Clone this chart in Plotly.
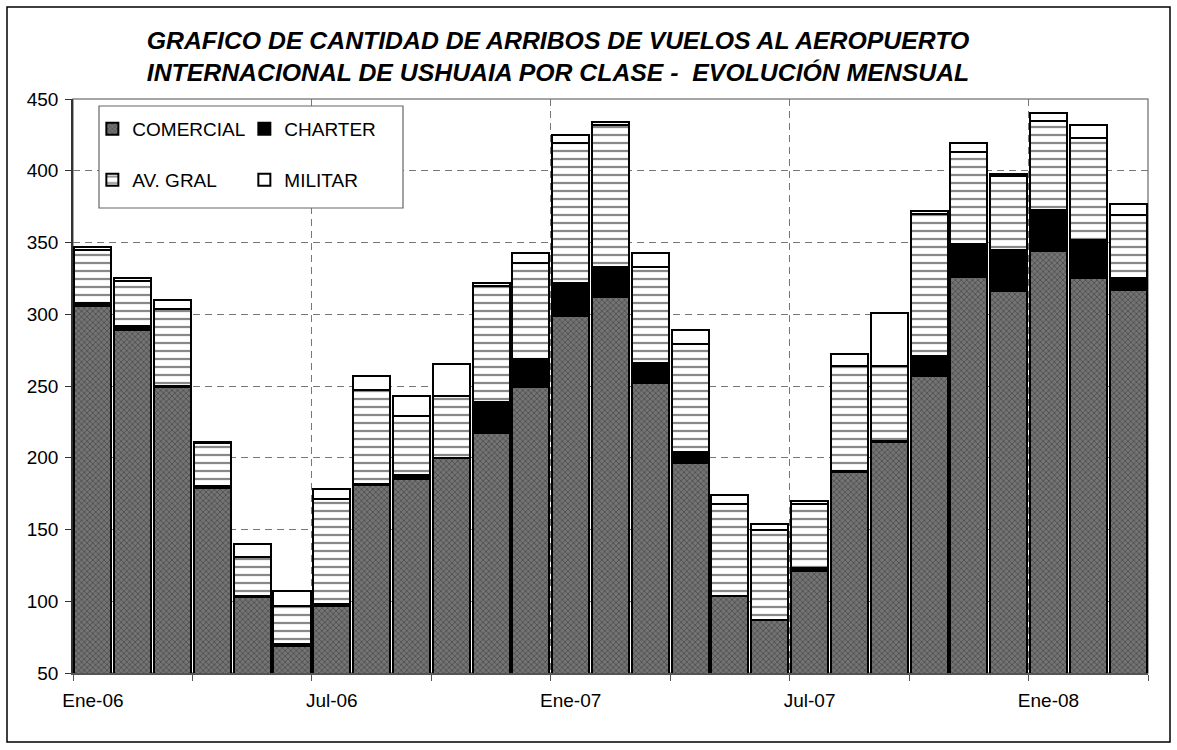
import plotly.graph_objects as go

months = ["Ene-06","Feb-06","Mar-06","Abr-06","May-06","Jun-06","Jul-06","Ago-06","Sep-06","Oct-06","Nov-06","Dic-06",
          "Ene-07","Feb-07","Mar-07","Abr-07","May-07","Jun-07","Jul-07","Ago-07","Sep-07","Oct-07","Nov-07","Dic-07",
          "Ene-08","Feb-08","Mar-08"]
comercial = [306, 289, 249, 179, 103, 69, 97, 181, 185, 200, 217, 249,
             299, 312, 252, 196, 104, 87, 121, 190, 211, 257, 326, 316,
             344, 325, 317]
charter   = [2, 3, 1, 1, 1, 1, 1, 1, 3, 0, 22, 20,
             23, 21, 14, 8, 0, 0, 2, 1, 1, 14, 23, 29,
             29, 27, 8]
av_gral   = [37, 31, 54, 30, 27, 27, 73, 65, 41, 43, 81, 67,
             97, 99, 67, 75, 64, 63, 45, 73, 52, 99, 64, 51,
             62, 71, 44]
militar   = [2, 2, 6, 1, 9, 10, 7, 10, 14, 22, 2, 7,
             6, 2, 10, 10, 6, 4, 2, 8, 37, 2, 6, 2,
             5, 9, 8]
label_idx = [0, 6, 12, 18, 24]
y_ticks = [50, 100, 150, 200, 250, 300, 350, 400, 450]

x = list(range(len(months)))
FONT = "Liberation Sans, Arial, sans-serif"
line = dict(color="black", width=2)

fig = go.Figure()
fig.add_trace(go.Bar(x=x, y=comercial, name="COMERCIAL", legend="legend",
                     marker=dict(color="#707070", line=line,
                                 pattern=dict(shape="x", size=4, solidity=0.35,
                                              fgcolor="#202020", bgcolor="#747474"))))
fig.add_trace(go.Bar(x=x, y=charter, name="CHARTER", legend="legend",
                     marker=dict(color="black", line=line)))
fig.add_trace(go.Bar(x=x, y=av_gral, name="AV. GRAL", legend="legend2",
                     marker=dict(color="white", line=line,
                                 pattern=dict(shape="-", size=8, solidity=0.28,
                                              fgcolor="#111111", bgcolor="white"))))
fig.add_trace(go.Bar(x=x, y=militar, name="MILITAR", legend="legend2",
                     marker=dict(color="white", line=line)))

n = len(months)
fig.update_layout(
    width=1177, height=750,
    barmode="stack", bargap=0.07,
    paper_bgcolor="white", plot_bgcolor="white",
    margin=dict(l=73, r=29, t=99, b=77),
    font=dict(family=FONT, size=19, color="black"),
    title=dict(text="<b><i>GRAFICO DE CANTIDAD DE ARRIBOS DE VUELOS AL AEROPUERTO<br>"
                    "INTERNACIONAL DE USHUAIA POR CLASE -  EVOLUCIÓN MENSUAL</i></b>",
               x=558/1177, xanchor="center", y=1-49/750, yanchor="middle", yref="container",
               font=dict(family=FONT, size=24.8, color="black")),
    xaxis=dict(range=[-0.5, n-0.5], tickmode="array",
               tickvals=[i-0.5 for i in range(0, n+1, 3)],
               showticklabels=False, ticks="outside", ticklen=6, tickcolor="#555",
               showgrid=False, showline=True, linecolor="#555", linewidth=1.5, zeroline=False,
               minor=dict(tickmode="array", tickvals=[i-0.5 for i in range(6, n, 6)],
                          showgrid=True, gridcolor="#777", griddash="7px,5px", gridwidth=1.3,
                          ticks="")),
    xaxis2=dict(overlaying="x", anchor="y", side="bottom", range=[-0.5, n-0.5],
                tickmode="array", tickvals=label_idx, ticktext=[months[i] for i in label_idx],
                ticks="", showgrid=False, showline=False, zeroline=False,
                ticklabelstandoff=14,
                tickfont=dict(family=FONT, size=19)),
    yaxis=dict(range=[50, 450], tickmode="array", tickvals=y_ticks,
               ticks="outside", ticklen=6, tickcolor="#333",
               showline=True, linecolor="#333", linewidth=1.5,
               showgrid=True, gridcolor="#777", griddash="7px,5px", gridwidth=1.3,
               zeroline=False, ticklabelstandoff=3, tickfont=dict(family=FONT, size=19)),
    legend=dict(orientation="h", x=0.018, xanchor="left", y=(673-129)/574, yanchor="middle",
                bgcolor="rgba(0,0,0,0)", font=dict(family=FONT, size=19),
                entrywidth=107, traceorder="normal", itemclick=False),
    legend2=dict(orientation="h", x=0.018, xanchor="left", y=(673-180)/574, yanchor="middle",
                 bgcolor="rgba(0,0,0,0)", font=dict(family=FONT, size=19),
                 entrywidth=107, traceorder="normal", itemclick=False),
    shapes=[
        dict(type="rect", xref="paper", yref="paper", x0=0, x1=1, y0=0, y1=1,
             line=dict(color="#888", width=1.5), layer="below"),
        dict(type="rect", xref="paper", yref="paper",
             x0=(99-73)/1075, x1=(403-73)/1075, y0=(673-208)/574, y1=(673-106)/574,
             line=dict(color="#666", width=1.2), fillcolor="white", layer="above"),
        dict(type="rect", xref="paper", yref="paper",
             x0=(7-73)/1075, x1=(1170-73)/1075, y0=(673-742)/574, y1=(673-7)/574,
             line=dict(color="black", width=1.5), layer="below"),
    ],
)
fig.add_trace(go.Scatter(x=[0], y=[None], xaxis="x2", showlegend=False, hoverinfo="skip"))

fig.write_html("out.html", config={"displayModeBar": False},
               post_script="document.body.style.margin='0px';")
